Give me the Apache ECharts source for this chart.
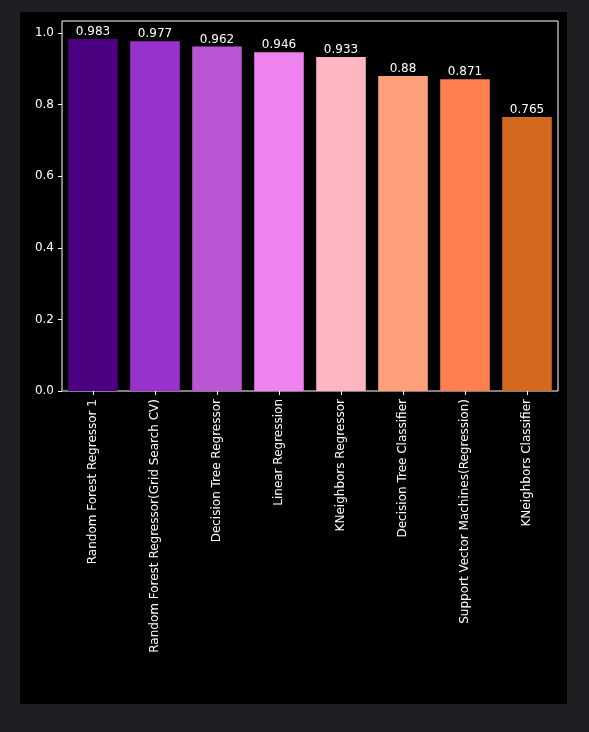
<!DOCTYPE html>
<html><head><meta charset="utf-8">
<script src="https://cdn.jsdelivr.net/npm/echarts@6/dist/echarts.min.js"></script>
<style>
body{margin:0;background:#1e1f22;width:589px;height:732px;overflow:hidden}
#c{position:absolute;left:20px;top:12px;width:547px;height:692px;background:#000}
</style></head><body>
<div id="c"></div>
<script>
var models = ['Random Forest Regressor 1','Random Forest Regressor(Grid Search CV)','Decision Tree Regressor','Linear Regression','KNeighbors Regressor','Decision Tree Classifier','Support Vector Machines(Regression)','KNeighbors Classifier'];
var scores = [0.983,0.977,0.962,0.946,0.933,0.88,0.871,0.765];
var colors = ['#4b0082','#9932cc','#ba55d3','#ee82ee','#ffb6c1','#ffa07a','#ff7f50','#d2691e'];

var chart = echarts.init(document.getElementById('c'));
var font = 'DejaVu Sans';
chart.setOption({
  backgroundColor: '#000',
  animation: false,
  grid: {left: 42, top: 9, right: 9, bottom: 313, show: true, borderColor: '#fff', borderWidth: 1},
  xAxis: {
    type: 'category', data: models,
    axisLine: {show: false},
    axisTick: {show: true, alignWithLabel: true, length: 4, lineStyle: {color: '#fff'}},
    axisLabel: {rotate: 90, color: '#fff', fontFamily: font, fontSize: 12, interval: 0, margin: 8}
  },
  yAxis: {
    type: 'value', min: 0, max: 1.0335, interval: 0.2,
    splitLine: {show: false},
    axisLine: {show: false},
    axisTick: {show: true, length: 4, lineStyle: {color: '#fff'}},
    axisLabel: {color: '#fff', fontFamily: font, fontSize: 12, showMaxLabel: false,
      formatter: function(v){ return v.toFixed(1); }}
  },
  series: [{
    type: 'bar', barWidth: '80%',
    data: scores.map(function(v,i){ return {value: v, itemStyle: {color: colors[i]}}; }),
    label: {show: true, position: 'top', distance: 1, color: '#fff', fontFamily: font, fontSize: 12,
      formatter: function(p){ return String(p.value); }}
  }]
});
</script>
</body></html>
